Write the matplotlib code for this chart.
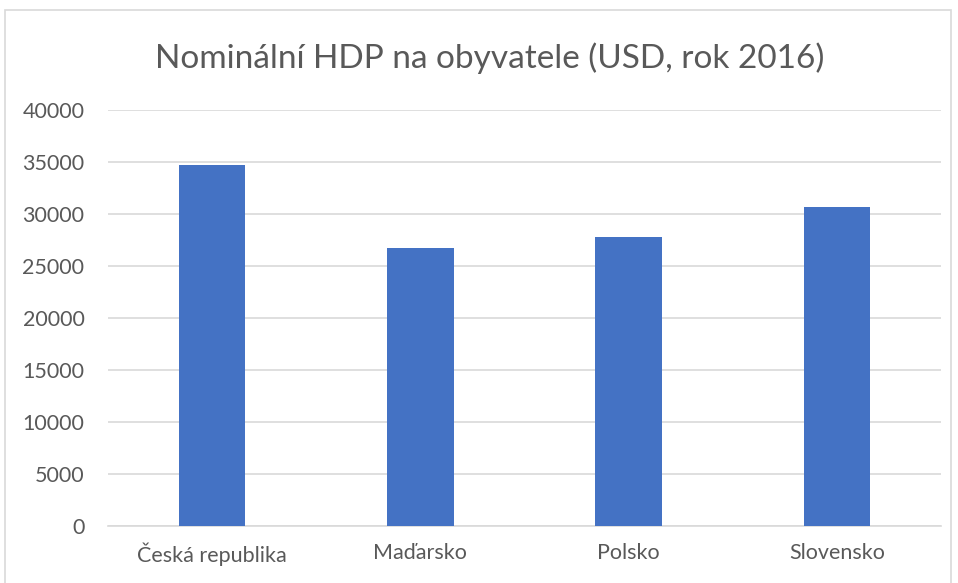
import matplotlib
matplotlib.use("Agg")
import matplotlib.pyplot as plt
from matplotlib.patches import Rectangle

# data
zeme = ["Česká republika", "Maďarsko", "Polsko", "Slovensko"]
hdp = [34700, 26700, 27800, 30700]
y_ticks = [0, 5000, 10000, 15000, 20000, 25000, 30000, 35000, 40000]

plt.rcParams['font.family'] = ['Lato', 'DejaVu Sans']

fig = plt.figure(figsize=(9.58, 5.83), dpi=100)

# ramecek grafu
fig.patches.append(Rectangle((5 / 958, -0.05), 946 / 958, 1.05 - 10 / 583,
                             transform=fig.transFigure, fill=False,
                             edgecolor="#D9D9D9", linewidth=1.2))

ax = fig.add_axes([108 / 958, 1 - 526 / 583, (941 - 108) / 958, (526 - 110) / 583])
x = range(len(zeme))
ax.bar(x, hdp, width=0.32, color="#4472C4", zorder=3)

ax.set_xlim(-0.5, len(zeme) - 0.5)
ax.set_ylim(0, 40000)
ax.set_yticks(y_ticks)
ax.set_yticklabels([str(t) for t in y_ticks])
ax.set_xticks(list(x))
ax.set_xticklabels(zeme)
ax.grid(axis="y", color="#D9D9D9", linewidth=1.2, zorder=0)

for s in ["top", "right", "left"]:
    ax.spines[s].set_visible(False)
ax.spines["bottom"].set_color("#D9D9D9")
ax.spines["bottom"].set_linewidth(1.2)
ax.tick_params(axis="both", length=0, labelsize=15.5, colors="#595959")
ax.tick_params(axis="y", pad=17)
ax.tick_params(axis="x", pad=12)

fig.text(490 / 958, 1 - 58 / 583, "Nominální HDP na obyvatele (USD, rok 2016)",
         ha="center", va="center", fontsize=24, color="#595959")

fig.savefig("out.png", dpi=100)
